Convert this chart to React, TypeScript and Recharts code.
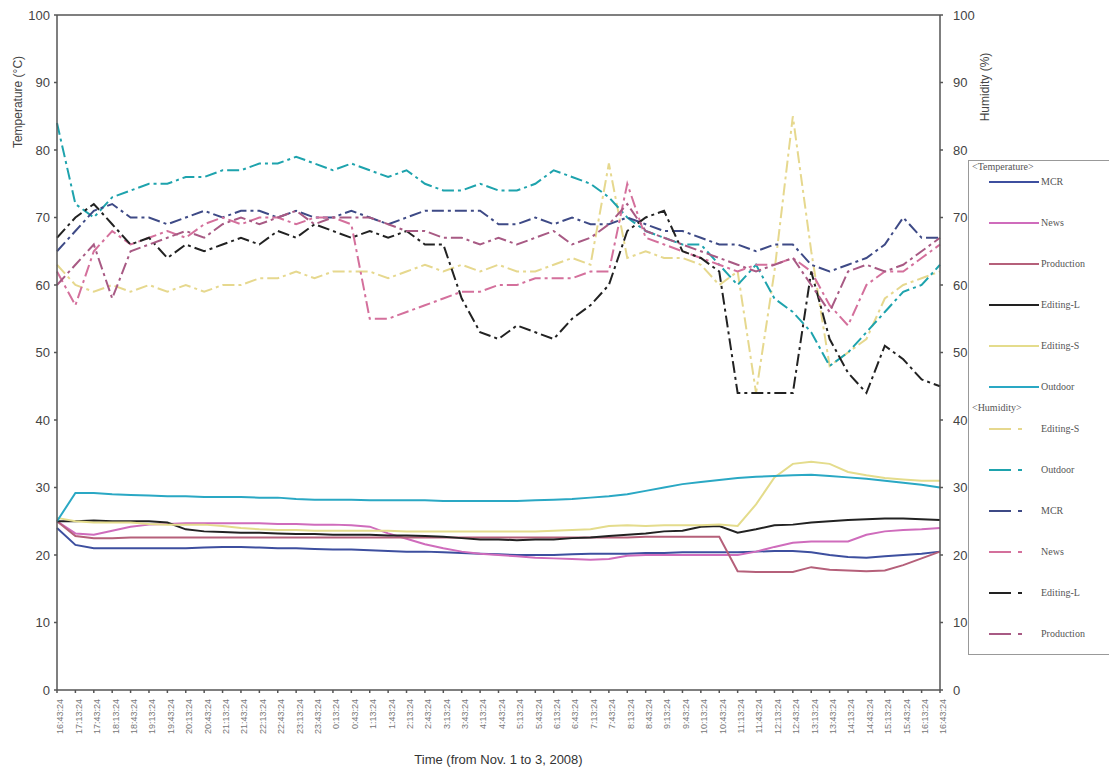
import { LineChart, Line, XAxis, YAxis, Legend, ReferenceLine } from 'recharts';

const times = [
  '16:43:24', '17:13:24', '17:43:24', '18:13:24', '18:43:24', '19:13:24', '19:43:24',
  '20:13:24', '20:43:24', '21:13:24', '21:43:24', '22:13:24', '22:43:24', '23:13:24',
  '23:43:24', '0:13:24', '0:43:24', '1:13:24', '1:43:24', '2:13:24', '2:43:24',
  '3:13:24', '3:43:24', '4:13:24', '4:43:24', '5:13:24', '5:43:24', '6:13:24',
  '6:43:24', '7:13:24', '7:43:24', '8:13:24', '8:43:24', '9:13:24', '9:43:24',
  '10:13:24', '10:43:24', '11:13:24', '11:43:24', '12:13:24', '12:43:24', '13:13:24',
  '13:43:24', '14:13:24', '14:43:24', '15:13:24', '15:43:24', '16:13:24', '16:43:24',
];

// temperature (°C)
const mcrT = [24, 21.5, 21, 21, 21, 21, 21, 21, 21.1, 21.2, 21.2, 21.1, 21, 21, 20.9, 20.8, 20.8, 20.7, 20.6, 20.5, 20.5, 20.4, 20.3, 20.2, 20.1, 20, 20, 20, 20.1, 20.2, 20.2, 20.2, 20.3, 20.3, 20.4, 20.4, 20.4, 20.4, 20.5, 20.6, 20.6, 20.4, 20, 19.7, 19.6, 19.8, 20, 20.2, 20.5];
const newsT = [25, 23.2, 23, 23.6, 24.2, 24.5, 24.6, 24.7, 24.7, 24.7, 24.7, 24.7, 24.6, 24.6, 24.5, 24.5, 24.4, 24.2, 23.2, 22.4, 21.6, 21, 20.5, 20.2, 20, 19.8, 19.6, 19.5, 19.4, 19.3, 19.4, 19.9, 20, 20, 20, 20, 20, 20, 20.5, 21.2, 21.8, 22, 22, 22, 23, 23.5, 23.7, 23.8, 24];
const prodT = [25, 22.8, 22.5, 22.5, 22.6, 22.6, 22.6, 22.6, 22.6, 22.6, 22.6, 22.6, 22.6, 22.6, 22.6, 22.6, 22.6, 22.6, 22.6, 22.6, 22.6, 22.6, 22.6, 22.6, 22.6, 22.6, 22.6, 22.6, 22.6, 22.6, 22.6, 22.6, 22.7, 22.7, 22.7, 22.7, 22.7, 17.6, 17.5, 17.5, 17.5, 18.2, 17.8, 17.7, 17.6, 17.7, 18.5, 19.5, 20.5];
const edLT = [25, 25, 25.1, 25, 25, 25, 24.8, 23.8, 23.5, 23.4, 23.3, 23.3, 23.2, 23.1, 23.1, 23, 23, 23, 22.9, 22.9, 22.8, 22.7, 22.5, 22.3, 22.3, 22.2, 22.3, 22.3, 22.5, 22.6, 22.8, 23, 23.2, 23.5, 23.6, 24.2, 24.3, 23.3, 23.8, 24.4, 24.5, 24.8, 25, 25.2, 25.3, 25.4, 25.4, 25.3, 25.2];
const edST = [25.5, 25, 24.8, 24.8, 24.8, 24.6, 24.5, 24.5, 24.5, 24.3, 24, 23.8, 23.7, 23.7, 23.6, 23.6, 23.6, 23.6, 23.6, 23.5, 23.5, 23.5, 23.5, 23.5, 23.5, 23.5, 23.5, 23.6, 23.7, 23.8, 24.3, 24.4, 24.3, 24.4, 24.4, 24.4, 24.5, 24.3, 27.5, 31.5, 33.5, 33.8, 33.5, 32.3, 31.8, 31.4, 31.2, 31, 31];
const outT = [25, 29.2, 29.2, 29, 28.9, 28.8, 28.7, 28.7, 28.6, 28.6, 28.6, 28.5, 28.5, 28.3, 28.2, 28.2, 28.2, 28.1, 28.1, 28.1, 28.1, 28, 28, 28, 28, 28, 28.1, 28.2, 28.3, 28.5, 28.7, 29, 29.5, 30, 30.5, 30.8, 31.1, 31.4, 31.6, 31.7, 31.8, 31.9, 31.7, 31.5, 31.3, 31, 30.7, 30.4, 30];

// humidity (%)
const edSH = [63, 60, 59, 60, 59, 60, 59, 60, 59, 60, 60, 61, 61, 62, 61, 62, 62, 62, 61, 62, 63, 62, 63, 62, 63, 62, 62, 63, 64, 63, 78, 64, 65, 64, 64, 63, 60, 62, 44, 62, 85, 65, 48, 50, 52, 58, 60, 61, 62];
const outH = [84, 72, 70, 73, 74, 75, 75, 76, 76, 77, 77, 78, 78, 79, 78, 77, 78, 77, 76, 77, 75, 74, 74, 75, 74, 74, 75, 77, 76, 75, 73, 70, 68, 67, 66, 66, 63, 60, 63, 58, 56, 53, 48, 50, 53, 56, 59, 60, 63];
const mcrH = [65, 68, 71, 72, 70, 70, 69, 70, 71, 70, 71, 71, 70, 71, 70, 70, 71, 70, 69, 70, 71, 71, 71, 71, 69, 69, 70, 69, 70, 69, 69, 70, 69, 68, 68, 67, 66, 66, 65, 66, 66, 63, 62, 63, 64, 66, 70, 67, 67];
const newsH = [62, 57, 65, 68, 66, 67, 68, 67, 69, 70, 69, 70, 70, 69, 70, 70, 69, 55, 55, 56, 57, 58, 59, 59, 60, 60, 61, 61, 61, 62, 62, 75, 67, 66, 65, 64, 63, 62, 63, 63, 64, 62, 57, 54, 60, 62, 62, 64, 66];
const edLH = [67, 70, 72, 69, 66, 67, 64, 66, 65, 66, 67, 66, 68, 67, 69, 68, 67, 68, 67, 68, 66, 66, 58, 53, 52, 54, 53, 52, 55, 57, 60, 68, 70, 71, 65, 64, 62, 44, 44, 44, 44, 62, 52, 47, 44, 51, 49, 46, 45];
const prodH = [60, 63, 66, 58, 65, 66, 67, 68, 67, 69, 70, 69, 70, 71, 69, 70, 70, 70, 69, 68, 68, 67, 67, 66, 67, 66, 67, 68, 66, 67, 69, 72, 68, 67, 66, 65, 64, 63, 62, 63, 64, 60, 56, 62, 63, 62, 63, 65, 67];

const data = times.map((t, i) => ({
  t,
  mcrT: mcrT[i], newsT: newsT[i], prodT: prodT[i], edLT: edLT[i], edST: edST[i], outT: outT[i],
  edSH: edSH[i], outH: outH[i], mcrH: mcrH[i], newsH: newsH[i], edLH: edLH[i], prodH: prodH[i],
}));

const tempSeries = [
  { key: 'mcrT', name: 'MCR', color: '#3d4f9f' },
  { key: 'newsT', name: 'News', color: '#cf6cbc' },
  { key: 'prodT', name: 'Production', color: '#b5607a' },
  { key: 'edLT', name: 'Editing-L', color: '#222222' },
  { key: 'edST', name: 'Editing-S', color: '#e4dc8c' },
  { key: 'outT', name: 'Outdoor', color: '#2aa8c4' },
];
const humSeries = [
  { key: 'edSH', name: 'Editing-S', color: '#e6d88e' },
  { key: 'outH', name: 'Outdoor', color: '#1ea3ad' },
  { key: 'mcrH', name: 'MCR', color: '#3e4a86' },
  { key: 'newsH', name: 'News', color: '#d4709c' },
  { key: 'edLH', name: 'Editing-L', color: '#222222' },
  { key: 'prodH', name: 'Production', color: '#a85a84' },
];

const ticks = [0, 10, 20, 30, 40, 50, 60, 70, 80, 90, 100];
const DASH = '12 4 3 4';
const SANS = '"Liberation Sans", Arial, sans-serif';

function LegendBox() {
  const row = (s: { name: string; color: string }, dashed: boolean, top: number) => (
    <div key={s.name + top} style={{ position: 'absolute', left: 0, top, height: 14, width: 141 }}>
      <svg width={72} height={14} style={{ position: 'absolute', left: 0, top: 0 }}>
        {dashed ? (
          <>
            <line x1={20} y1={7} x2={42} y2={7} stroke={s.color} strokeWidth={2} />
            <line x1={49} y1={7} x2={53} y2={7} stroke={s.color} strokeWidth={2} />
          </>
        ) : (
          <line x1={20} y1={7} x2={70} y2={7} stroke={s.color} strokeWidth={2} />
        )}
      </svg>
      <span style={{ position: 'absolute', left: 72, top: 0, lineHeight: '14px' }}>{s.name}</span>
    </div>
  );
  return (
    <div
      style={{
        position: 'relative', width: 141, height: 495, border: '1px solid #999', borderRight: 'none',
        fontFamily: '"Liberation Serif", serif', fontSize: 10, color: '#555', boxSizing: 'border-box',
      }}
    >
      <div style={{ position: 'absolute', left: 3, top: 0 }}>{'<Temperature>'}</div>
      {tempSeries.map((s, i) => row(s, false, 14 + i * 41))}
      <div style={{ position: 'absolute', left: 3, top: 241 }}>{'<Humidity>'}</div>
      {humSeries.map((s, i) => row(s, true, 261 + i * 41))}
    </div>
  );
}

export default function App() {
  return (
    <div style={{ position: 'absolute', left: 0, top: 0, width: 1109, height: 769, background: '#fff' }}>
      <LineChart width={1109} height={769} data={data} margin={{ top: 15, right: 141, left: 20, bottom: 0 }}>
        <XAxis
          dataKey="t"
          interval={0}
          angle={-90}
          textAnchor="end"
          height={79}
          tickSize={3}
          tickMargin={6}
          stroke="#555"
          strokeWidth={1.5}
          tick={{ fontSize: 9, fill: '#777', fontFamily: SANS }}
          label={{ value: 'Time (from Nov. 1 to 3, 2008)', position: 'insideBottom', offset: 5, fontSize: 13, fill: '#333', fontFamily: SANS }}
        />
        <YAxis
          yAxisId="t"
          domain={[0, 100]}
          ticks={ticks}
          width={37}
          tickSize={3}
          tickMargin={4}
          stroke="#555"
          strokeWidth={1.5}
          tick={{ fontSize: 13, fill: '#444', fontFamily: SANS }}
        />
        <YAxis
          yAxisId="h"
          orientation="right"
          domain={[0, 100]}
          ticks={ticks}
          width={28}
          tickSize={3}
          tickMargin={10}
          stroke="#555"
          strokeWidth={1.5}
          tick={{ fontSize: 13, fill: '#444', fontFamily: SANS, textAnchor: 'start' }}
        />
        <ReferenceLine yAxisId="t" y={100} stroke="#555" strokeWidth={1.5} />
        {humSeries.map((s) => (
          <Line
            key={s.key}
            yAxisId="h"
            type="linear"
            dataKey={s.key}
            name={s.name}
            stroke={s.color}
            strokeWidth={2}
            strokeDasharray={DASH}
            dot={false}
            isAnimationActive={false}
          />
        ))}
        {tempSeries.map((s) => (
          <Line
            key={s.key}
            yAxisId="t"
            type="linear"
            dataKey={s.key}
            name={s.name}
            stroke={s.color}
            strokeWidth={2}
            dot={false}
            isAnimationActive={false}
          />
        ))}
        <Legend
          layout="vertical"
          align="center"
          verticalAlign="middle"
          content={() => <LegendBox />}
          wrapperStyle={{ position: 'absolute', left: 968, top: 160, width: 141, height: 495 }}
        />
      </LineChart>
      <svg width={1109} height={769} style={{ position: 'absolute', left: 0, top: 0, pointerEvents: 'none' }}>
        <text x={22} y={102} transform="rotate(-90 22 102)" textAnchor="middle" fontSize={12} fill="#444" fontFamily={SANS}>
          Temperature (°C)
        </text>
        <text x={989} y={87} transform="rotate(-90 989 87)" textAnchor="middle" fontSize={12} fill="#444" fontFamily={SANS}>
          Humidity (%)
        </text>
      </svg>
    </div>
  );
}
